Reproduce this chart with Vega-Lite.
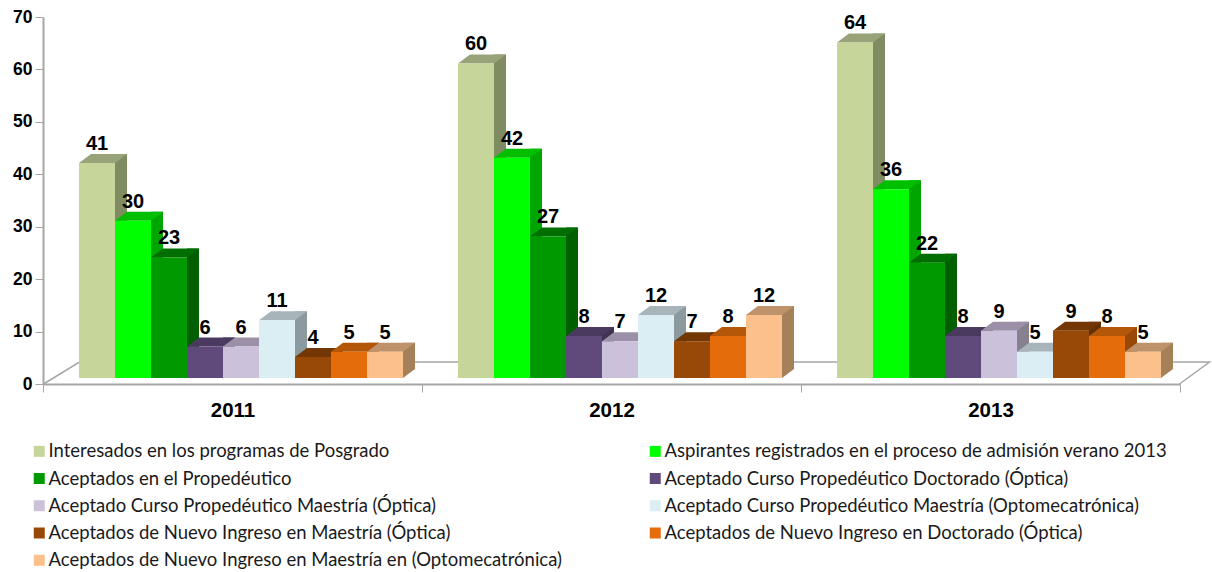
{
"$schema":"https://vega.github.io/schema/vega-lite/v6.json",
"autosize":"none","width":1137,"height":367,
"padding":{"left":43,"top":17,"right":32,"bottom":188},
"background":"white",
"datasets":{"d":[
{"year":"2011","serie":"Interesados en los programas de Posgrado","value":41},
{"year":"2011","serie":"Aspirantes registrados en el proceso de admisión verano  2013","value":30},
{"year":"2011","serie":"Aceptados en el Propedéutico","value":23},
{"year":"2011","serie":"Aceptado Curso Propedéutico Doctorado (Óptica)","value":6},
{"year":"2011","serie":"Aceptado Curso Propedéutico Maestría (Óptica)","value":6},
{"year":"2011","serie":"Aceptado Curso Propedéutico Maestría (Optomecatrónica)","value":11},
{"year":"2011","serie":"Aceptados de Nuevo Ingreso en Maestría (Óptica)","value":4},
{"year":"2011","serie":"Aceptados de Nuevo Ingreso en Doctorado (Óptica)","value":5},
{"year":"2011","serie":"Aceptados de Nuevo Ingreso en Maestría en (Optomecatrónica)","value":5},
{"year":"2012","serie":"Interesados en los programas de Posgrado","value":60},
{"year":"2012","serie":"Aspirantes registrados en el proceso de admisión verano  2013","value":42},
{"year":"2012","serie":"Aceptados en el Propedéutico","value":27},
{"year":"2012","serie":"Aceptado Curso Propedéutico Doctorado (Óptica)","value":8},
{"year":"2012","serie":"Aceptado Curso Propedéutico Maestría (Óptica)","value":7},
{"year":"2012","serie":"Aceptado Curso Propedéutico Maestría (Optomecatrónica)","value":12},
{"year":"2012","serie":"Aceptados de Nuevo Ingreso en Maestría (Óptica)","value":7},
{"year":"2012","serie":"Aceptados de Nuevo Ingreso en Doctorado (Óptica)","value":8},
{"year":"2012","serie":"Aceptados de Nuevo Ingreso en Maestría en (Optomecatrónica)","value":12},
{"year":"2013","serie":"Interesados en los programas de Posgrado","value":64},
{"year":"2013","serie":"Aspirantes registrados en el proceso de admisión verano  2013","value":36},
{"year":"2013","serie":"Aceptados en el Propedéutico","value":22},
{"year":"2013","serie":"Aceptado Curso Propedéutico Doctorado (Óptica)","value":8},
{"year":"2013","serie":"Aceptado Curso Propedéutico Maestría (Óptica)","value":9},
{"year":"2013","serie":"Aceptado Curso Propedéutico Maestría (Optomecatrónica)","value":5},
{"year":"2013","serie":"Aceptados de Nuevo Ingreso en Maestría (Óptica)","value":9},
{"year":"2013","serie":"Aceptados de Nuevo Ingreso en Doctorado (Óptica)","value":8},
{"year":"2013","serie":"Aceptados de Nuevo Ingreso en Maestría en (Optomecatrónica)","value":5}
]},
"data":{"name":"d"},
"encoding":{
"x":{"field":"year","type":"nominal","sort":null,"title":null,
"scale":{"domain":["2011","2012","2013"],"paddingInner":0,"paddingOuter":0},
"axis":{"labelAngle":0,"tickBand":"extent","tickSize":8,"tickColor":"#a6a6a6","domainColor":"#a6a6a6","domainWidth":2,"labelFont":"Liberation Sans","labelFontWeight":"bold","labelFontSize":20.5,"labelColor":"#000000","labelPadding":8,"grid":false}},
"y":{"field":"value","type":"quantitative","title":null,
"scale":{"domain":[0,70],"nice":false},
"axis":{"values":[0,10,20,30,40,50,60,70],"tickSize":8,"tickColor":"#a6a6a6","domainColor":"#a6a6a6","domainWidth":2,"labelFont":"Liberation Sans","labelFontWeight":"bold","labelFontSize":17.5,"labelColor":"#000000","labelPadding":3,"grid":false}}
},
"layer":[
{"data":{"values":[{"year":"2012","value":0}]},
"mark":{"type":"point","shape":"M-568,0L-532,-22L598,-22L568,0","size":4,"filled":false,"fill":null,"stroke":"#a6a6a6","strokeWidth":1.5,"opacity":1}},
{"mark":{"type":"bar","width":12,"yOffset":-15,"y2Offset":-15,"stroke":null},
"encoding":{"xOffset":{"field":"serie","sort":null,"scale":{"range":[60,384],"paddingInner":0,"paddingOuter":0}},
"color":{"field":"serie","sort":null,"legend":null,"scale":{"range":["#7F8B60","#00A600","#006000","#3F3152","#86808F","#8B9A9F","#643005","#984807","#A68059"]}}}},
{"mark":{"type":"point","shape":"M18,0L18,-9L30,-9Z","size":4,"filled":true,"strokeWidth":0,"opacity":1,"yOffset":-6},
"encoding":{"y":{"datum":0},"xOffset":{"field":"serie","sort":null,"scale":{"range":[36,360]}},
"color":{"field":"serie","sort":null,"legend":null,"scale":{"range":["#7F8B60","#00A600","#006000","#3F3152","#86808F","#8B9A9F","#643005","#984807","#A68059"]}}}},
{"mark":{"type":"point","shape":"M-18,0L18,0L30,-9L-6,-9Z","size":4,"filled":true,"strokeWidth":0,"opacity":1,"yOffset":-6},
"encoding":{"xOffset":{"field":"serie","sort":null,"scale":{"range":[36,360]}},
"color":{"field":"serie","sort":null,"legend":null,"scale":{"range":["#98A37A","#00BF00","#006E00","#4B3A60","#9C90A8","#A7B5BA","#733705","#B45708","#BE936B"]}}}},
{"mark":{"type":"bar","yOffset":-6,"y2Offset":-6,"stroke":null},
"encoding":{"xOffset":{"field":"serie","sort":null,"scale":{"range":[36,360],"paddingInner":0,"paddingOuter":0}},
"color":{"field":"serie","title":null,
"scale":{"domain":["Interesados en los programas de Posgrado","Aceptados en el Propedéutico","Aceptado Curso Propedéutico Maestría (Óptica)","Aceptados de Nuevo Ingreso en Maestría (Óptica)","Aceptados de Nuevo Ingreso en Maestría en (Optomecatrónica)","Aspirantes registrados en el proceso de admisión verano  2013","Aceptado Curso Propedéutico Doctorado (Óptica)","Aceptado Curso Propedéutico Maestría (Optomecatrónica)","Aceptados de Nuevo Ingreso en Doctorado (Óptica)"],
"range":["#C6D69B","#009900","#CCC1DA","#984807","#FCC08C","#00FF00","#604A7B","#DBEEF4","#E46C0A"]},
"legend":{"orient":"none","legendX":-13,"legendY":425,"columns":2,"columnPadding":84,"rowPadding":8.25,"symbolType":"square","symbolSize":121,"symbolStrokeWidth":0,"symbolOpacity":1,"labelFont":"Lato","labelFontSize":18.5,"labelColor":"#1a1a1a","labelLimit":700,"labelOffset":0}}}},
{"mark":{"type":"text","font":"Liberation Sans","fontWeight":"bold","fontSize":20,"color":"#000000","align":"center","baseline":"alphabetic","dy":-19},
"encoding":{"xOffset":{"field":"serie","sort":null,"scale":{"range":[36,360]}},"text":{"field":"value","type":"quantitative"}}}
],
"resolve":{"scale":{"color":"independent","xOffset":"independent"}},
"config":{"view":{"stroke":null}}
}
